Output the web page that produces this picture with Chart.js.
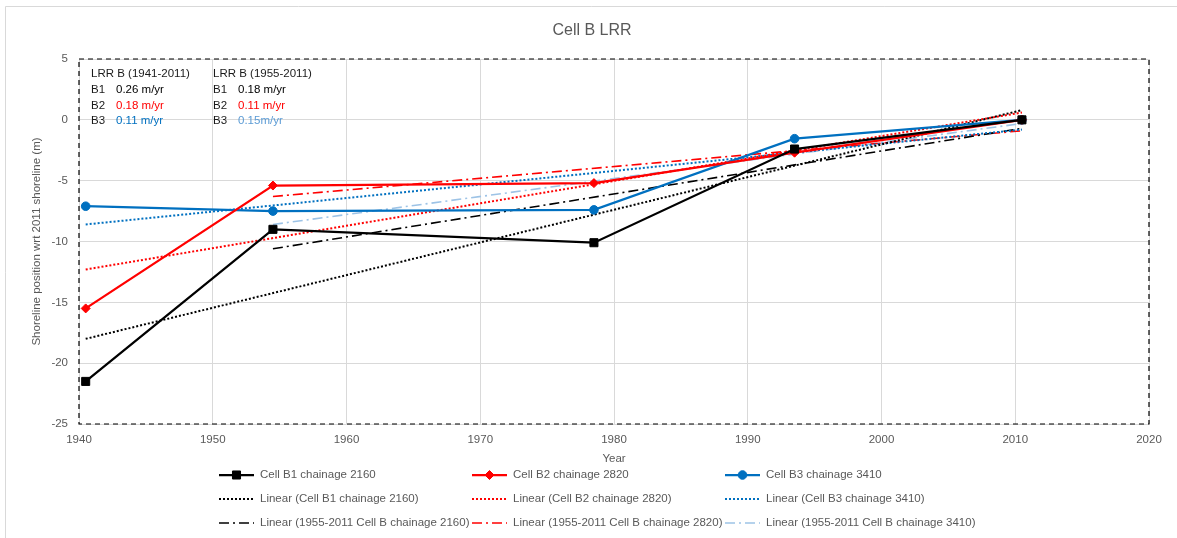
<!DOCTYPE html>
<html>
<head>
<meta charset="utf-8">
<script src="https://cdn.jsdelivr.net/npm/chart.js@4.4.1/dist/chart.umd.min.js"></script>
<style>
  html, body { margin: 0; padding: 0; background: #fff; }
  #wrap { position: relative; width: 1177px; height: 538px; }
</style>
</head>
<body>
<div id="wrap"><canvas id="myChart" width="1177" height="538"></canvas></div>
<script>
const FONT = "'Liberation Sans', Arial, sans-serif";

// survey years
const years = [1940.5, 1954.5, 1978.5, 1993.5, 2010.5];
// shoreline position wrt 2011 shoreline (m)
const cellB1 = [-21.5, -9.0, -10.1, -2.4, 0];
const cellB2 = [-15.5, -5.4, -5.2, -2.7, 0];
const cellB3 = [-7.1, -7.5, -7.4, -1.55, 0];

// trend line ends: [start, end]
const trendYears = [1940.5, 2010.5];
const trendB1 = [-18.0, 0.8];
const trendB2 = [-12.3, 0.6];
const trendB3 = [-8.6, -0.8];

const trend55Years = [1954.5, 2010.5];
const trend55B1 = [-10.6, -0.7];
const trend55B2 = [-6.3, -0.9];
const trend55B3 = [-8.6, -0.3];

const xTicks = [1940, 1950, 1960, 1970, 1980, 1990, 2000, 2010, 2020];

const rateRows = ['B1', 'B2', 'B3'];
const rates4111 = ['0.26 m/yr', '0.18 m/yr', '0.11 m/yr'];
const rates5511 = ['0.18 m/yr', '0.11 m/yr', '0.15m/yr'];

const BLACK = '#000000';
const RED = '#ff0000';
const BLUE = '#0070c0';
const LIGHTBLUE = '#9dc3e6';

const toPts = (xs, ys) => xs.map((x, i) => ({ x: x, y: ys[i] }));

const series = (label, ys, color, style, radius) => ({
    label: label,
    data: toPts(years, ys),
    borderColor: color,
    backgroundColor: color,
    borderWidth: 2.25,
    pointStyle: style,
    pointRadius: radius,
    pointHoverRadius: radius,
    pointBorderWidth: 1,
    showLine: true
});

const trend = (label, xs, ys, color, dash, width) => ({
    label: label,
    data: toPts(xs, ys),
    borderColor: color,
    backgroundColor: color,
    borderWidth: width,
    borderDash: dash,
    pointRadius: 0,
    showLine: true
});

const DOT = [2, 2];
const DASHDOT = [10, 4, 2, 4];

const datasets = [
    series('Cell B1 chainage 2160', cellB1, BLACK, 'rect', 5.7),
    series('Cell B2 chainage 2820', cellB2, RED, 'rectRot', 4.5),
    series('Cell B3 chainage 3410', cellB3, BLUE, 'circle', 4.3),
    trend('Linear (Cell B1 chainage 2160)', trendYears, trendB1, BLACK, DOT, 2),
    trend('Linear (Cell B2 chainage 2820)', trendYears, trendB2, RED, DOT, 2),
    trend('Linear (Cell B3 chainage 3410)', trendYears, trendB3, BLUE, DOT, 2),
    trend('Linear (1955-2011 Cell B chainage 2160)', trend55Years, trend55B1, BLACK, DASHDOT, 1.6),
    trend('Linear (1955-2011 Cell B chainage 2820)', trend55Years, trend55B2, RED, DASHDOT, 1.6),
    trend('Linear (1955-2011 Cell B chainage 3410)', trend55Years, trend55B3, LIGHTBLUE, DASHDOT, 1.6)
];

// title, frame, rate table and legend
const decor = {
    id: 'decor',
    beforeDraw(chart) {
        const ctx = chart.ctx;
        ctx.save();
        ctx.fillStyle = '#fff';
        ctx.fillRect(0, 0, chart.width, chart.height);
        ctx.strokeStyle = '#d9d9d9';
        ctx.lineWidth = 1;
        ctx.beginPath();
        ctx.moveTo(5.5, chart.height);
        ctx.lineTo(5.5, 6.5);
        ctx.lineTo(chart.width, 6.5);
        ctx.stroke();
        ctx.fillStyle = '#595959';
        ctx.font = '16px ' + FONT;
        ctx.textAlign = 'center';
        ctx.textBaseline = 'middle';
        ctx.fillText('Cell B LRR', 592, 31);
        ctx.restore();
    },
    beforeDatasetsDraw(chart) {
        const ctx = chart.ctx;
        const a = chart.chartArea;
        ctx.save();
        ctx.strokeStyle = '#000';
        ctx.lineWidth = 1.2;
        ctx.setLineDash([5, 4]);
        ctx.strokeRect(a.left, a.top, a.right - a.left, a.bottom - a.top);
        ctx.restore();
    },
    afterDraw(chart) {
        const ctx = chart.ctx;
        ctx.save();
        ctx.font = '11.5px ' + FONT;
        ctx.textBaseline = 'middle';
        ctx.textAlign = 'left';

        // rate table
        const rowY = [90, 105.5, 121];
        ctx.fillStyle = '#1a1a1a';
        ctx.fillText('LRR B (1941-2011)', 91, 74);
        ctx.fillText('LRR B (1955-2011)', 213, 74);
        const c1 = [BLACK, RED, BLUE];
        const c2 = [BLACK, RED, '#5b9bd5'];
        rateRows.forEach((r, i) => {
            ctx.fillStyle = '#1a1a1a';
            ctx.fillText(r, 91, rowY[i]);
            ctx.fillText(r, 213, rowY[i]);
            ctx.fillStyle = c1[i];
            ctx.fillText(rates4111[i], 116, rowY[i]);
            ctx.fillStyle = c2[i];
            ctx.fillText(rates5511[i], 238, rowY[i]);
        });

        // legend grid
        const colX = [219, 472, 725];
        const legY = [475, 499, 523];
        chart.data.datasets.forEach((ds, i) => {
            const x = colX[i % 3];
            const y = legY[Math.floor(i / 3)];
            ctx.save();
            ctx.strokeStyle = ds.borderColor;
            ctx.lineWidth = ds.borderWidth;
            ctx.setLineDash(ds.borderDash || []);
            ctx.beginPath();
            ctx.moveTo(x, y);
            ctx.lineTo(x + 35, y);
            ctx.stroke();
            ctx.restore();
            if (ds.pointRadius > 0) {
                ctx.fillStyle = ds.backgroundColor;
                ctx.strokeStyle = ds.borderColor;
                Chart.helpers.drawPoint(ctx, {
                    pointStyle: ds.pointStyle,
                    radius: ds.pointRadius,
                    borderWidth: 1,
                    rotation: 0
                }, x + 17.5, y);
            }
            ctx.fillStyle = '#595959';
            ctx.fillText(ds.label, x + 41, y);
        });
        ctx.restore();
    }
};

const ctx = document.getElementById('myChart').getContext('2d');
const myChart = new Chart(ctx, {
    type: 'scatter',
    data: { datasets: datasets },
    options: {
        responsive: false,
        animation: false,
        layout: { padding: { left: 26, right: 28, top: 59, bottom: 68 } },
        plugins: {
            legend: { display: false },
            title: { display: false },
            tooltip: { enabled: false }
        },
        scales: {
            x: {
                type: 'linear',
                min: 1940,
                max: 2020,
                afterFit: (scale) => { scale.height = 46; },
                afterBuildTicks: (scale) => { scale.ticks = xTicks.map((v) => ({ value: v })); },
                ticks: {
                    color: '#595959',
                    font: { family: FONT, size: 11.5 },
                    padding: 9,
                    callback: (v) => String(v)
                },
                grid: { color: '#d9d9d9', drawTicks: false },
                border: { display: false },
                title: {
                    display: true,
                    text: 'Year',
                    color: '#595959',
                    font: { family: FONT, size: 11.5 }
                }
            },
            y: {
                min: -25,
                max: 5,
                afterFit: (scale) => { scale.width = 53; },
                ticks: {
                    stepSize: 5,
                    color: '#595959',
                    font: { family: FONT, size: 11.5 },
                    padding: 11
                },
                grid: { color: '#d9d9d9', drawTicks: false },
                border: { display: false },
                title: {
                    display: true,
                    text: 'Shoreline position wrt 2011 shoreline (m)',
                    color: '#595959',
                    font: { family: FONT, size: 11.5 }
                }
            }
        }
    },
    plugins: [decor]
});
</script>
</body>
</html>
